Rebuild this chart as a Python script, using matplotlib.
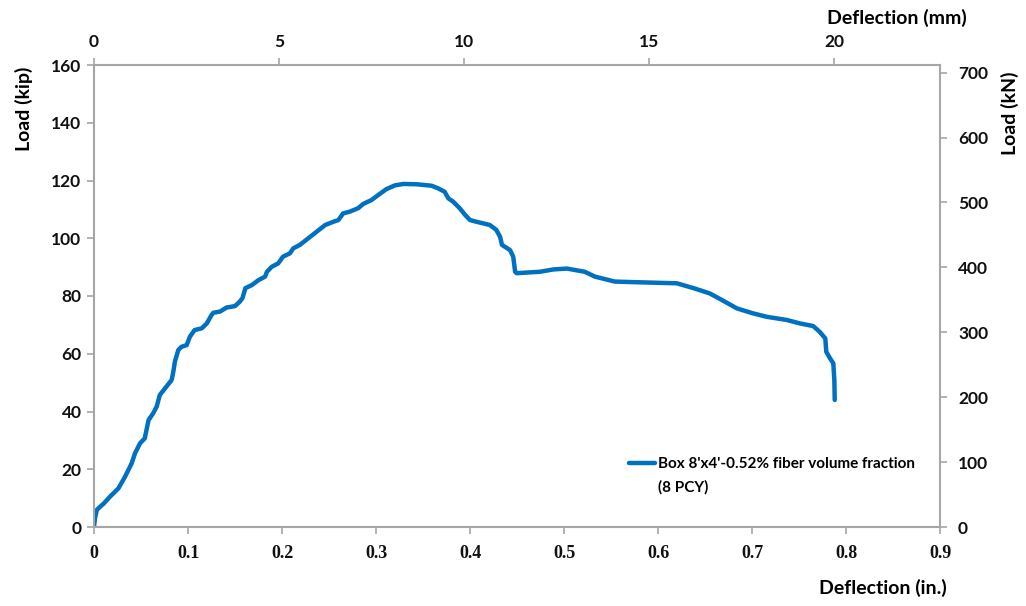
import numpy as np
import matplotlib
matplotlib.use("Agg")
import matplotlib.pyplot as plt

# deflection (in.) and load (kip)
defl_in = [0.0, 0.001, 0.003, 0.0064, 0.010, 0.017, 0.026, 0.033, 0.040, 0.0436,
           0.049, 0.054, 0.058, 0.063, 0.0667, 0.070, 0.0755, 0.0826, 0.0844, 0.086,
           0.0897, 0.093, 0.0986, 0.102, 0.107, 0.1146, 0.120, 0.125, 0.127, 0.134,
           0.141, 0.150, 0.155, 0.158, 0.161, 0.168, 0.175, 0.182, 0.184, 0.189,
           0.196, 0.201, 0.2085, 0.212, 0.219, 0.228, 0.237, 0.246, 0.2546, 0.260,
           0.265, 0.272, 0.281, 0.2865, 0.295, 0.3025, 0.311, 0.320, 0.329, 0.343,
           0.359, 0.366, 0.373, 0.377, 0.382, 0.389, 0.395, 0.400, 0.407, 0.421,
           0.428, 0.432, 0.434, 0.4426, 0.446, 0.448, 0.4497, 0.4745, 0.4887, 0.503,
           0.522, 0.533, 0.554, 0.574, 0.620, 0.638, 0.655, 0.668, 0.684, 0.701,
           0.7156, 0.737, 0.751, 0.765, 0.772, 0.778, 0.779, 0.783, 0.7865, 0.7876,
           0.788]
load_kip = [0.0, 3.0, 5.9, 7.0, 8.0, 10.5, 13.4, 17.4, 22.0, 25.5,
            29.0, 30.7, 37.0, 39.4, 41.7, 45.7, 48.0, 50.9, 53.8, 57.2,
            61.3, 62.4, 63.0, 65.9, 68.2, 68.8, 70.5, 73.4, 74.2, 74.6,
            76.0, 76.5, 78.0, 79.3, 82.7, 83.8, 85.5, 86.7, 88.4, 90.1,
            91.3, 93.6, 94.8, 96.5, 97.7, 100.0, 102.3, 104.6, 105.7, 106.3,
            108.6, 109.2, 110.4, 111.9, 113.2, 115.0, 117.0, 118.3, 118.8, 118.7,
            118.2, 117.3, 116.1, 113.8, 112.7, 110.4, 108.0, 106.3, 105.7, 104.6,
            102.9, 100.5, 97.7, 95.9, 93.6, 88.4, 87.9, 88.4, 89.2, 89.5,
            88.4, 86.7, 85.0, 84.8, 84.4, 82.7, 80.9, 78.6, 75.7, 74.0,
            72.8, 71.7, 70.5, 69.6, 67.6, 65.3, 60.7, 58.4, 56.7, 50.9,
            44.0]

series_label = "Box 8'x4'-0.52% fiber volume fraction"
series_label2 = "(8 PCY)"
x_ticks = [0, 0.1, 0.2, 0.3, 0.4, 0.5, 0.6, 0.7, 0.8, 0.9]
x_ticklabels = ["0", "0.1", "0.2", "0.3", "0.4", "0.5", "0.6", "0.7", "0.8", "0.9"]
y_ticks = [0, 20, 40, 60, 80, 100, 120, 140, 160]
mm_ticks = [0, 5, 10, 15, 20]
kn_ticks = [0, 100, 200, 300, 400, 500, 600, 700]

IN2MM = 25.4
KIP2KN = 4.44822

sans = ['Lato', 'DejaVu Sans']
serif = ['Liberation Serif', 'DejaVu Serif']
grey = '#A6A6A6'
blue = '#0070C0'

fig = plt.figure(figsize=(10.26, 6.06), dpi=100)
ax = fig.add_axes([94/1026, 1-527/606, (940-94)/1026, (527-65)/606])

ax.plot(defl_in, load_kip, color=blue, linewidth=3.2, solid_capstyle='round',
        solid_joinstyle='round', label=series_label)

ax.set_xlim(0, 0.9)
ax.set_ylim(0, 160)
ax.set_xticks(x_ticks)
ax.set_xticklabels(x_ticklabels, fontfamily=serif, fontweight='bold', fontsize=13)
ax.set_yticks(y_ticks)
ax.set_yticklabels([str(v) for v in y_ticks], fontfamily=sans, fontweight='bold', fontsize=12.5)

for side in ['top', 'right']:
    ax.spines[side].set_visible(False)
for side in ['left', 'bottom']:
    ax.spines[side].set_color(grey)
    ax.spines[side].set_linewidth(1.5)
ax.tick_params(axis='both', direction='out', length=5, width=1.2, color=grey,
               labelcolor='#111111', pad=4)
ax.tick_params(axis='x', pad=8)

top = ax.secondary_xaxis('top', functions=(lambda x: x*IN2MM, lambda x: x/IN2MM))
top.set_xticks(mm_ticks)
top.set_xticklabels([str(v) for v in mm_ticks], fontfamily=sans, fontweight='bold', fontsize=12.5)
top.spines['top'].set_color(grey)
top.spines['top'].set_linewidth(1.5)
top.tick_params(direction='out', length=5, width=1.2, color=grey, labelcolor='#111111', pad=6)

right = ax.secondary_yaxis('right', functions=(lambda y: y*KIP2KN, lambda y: y/KIP2KN))
right.set_yticks(kn_ticks)
right.set_yticklabels([str(v) for v in kn_ticks], fontfamily=sans, fontweight='bold', fontsize=12.5)
right.spines['right'].set_color(grey)
right.spines['right'].set_linewidth(1.5)
right.tick_params(direction='out', length=5, width=1.2, color=grey, labelcolor='#111111', pad=8)

fig.text(24/1026, 1-109/606, 'Load (kip)', rotation=90, ha='center', va='center',
         fontfamily=sans, fontweight='bold', fontsize=14)
fig.text(1010/1026, 1-113/606, 'Load (kN)', rotation=90, ha='center', va='center',
         fontfamily=sans, fontweight='bold', fontsize=14)
fig.text(883/1026, 1-588/606, 'Deflection (in.)', ha='center', va='center',
         fontfamily=sans, fontweight='bold', fontsize=14)
fig.text(897/1026, 1-18/606, 'Deflection (mm)', ha='center', va='center',
         fontfamily=sans, fontweight='bold', fontsize=14)

leg = ax.legend(loc='center left', bbox_to_anchor=(621/1026, 1-464/606),
                bbox_transform=fig.transFigure, frameon=False, handlelength=1.7,
                handletextpad=0.2, borderpad=0,
                prop={'family': sans, 'weight': 'bold', 'size': 11})
fig.text(658/1026, 1-487/606, series_label2, ha='left', va='center',
         fontfamily=sans, fontweight='bold', fontsize=11)

fig.savefig('out.png', dpi=100)
